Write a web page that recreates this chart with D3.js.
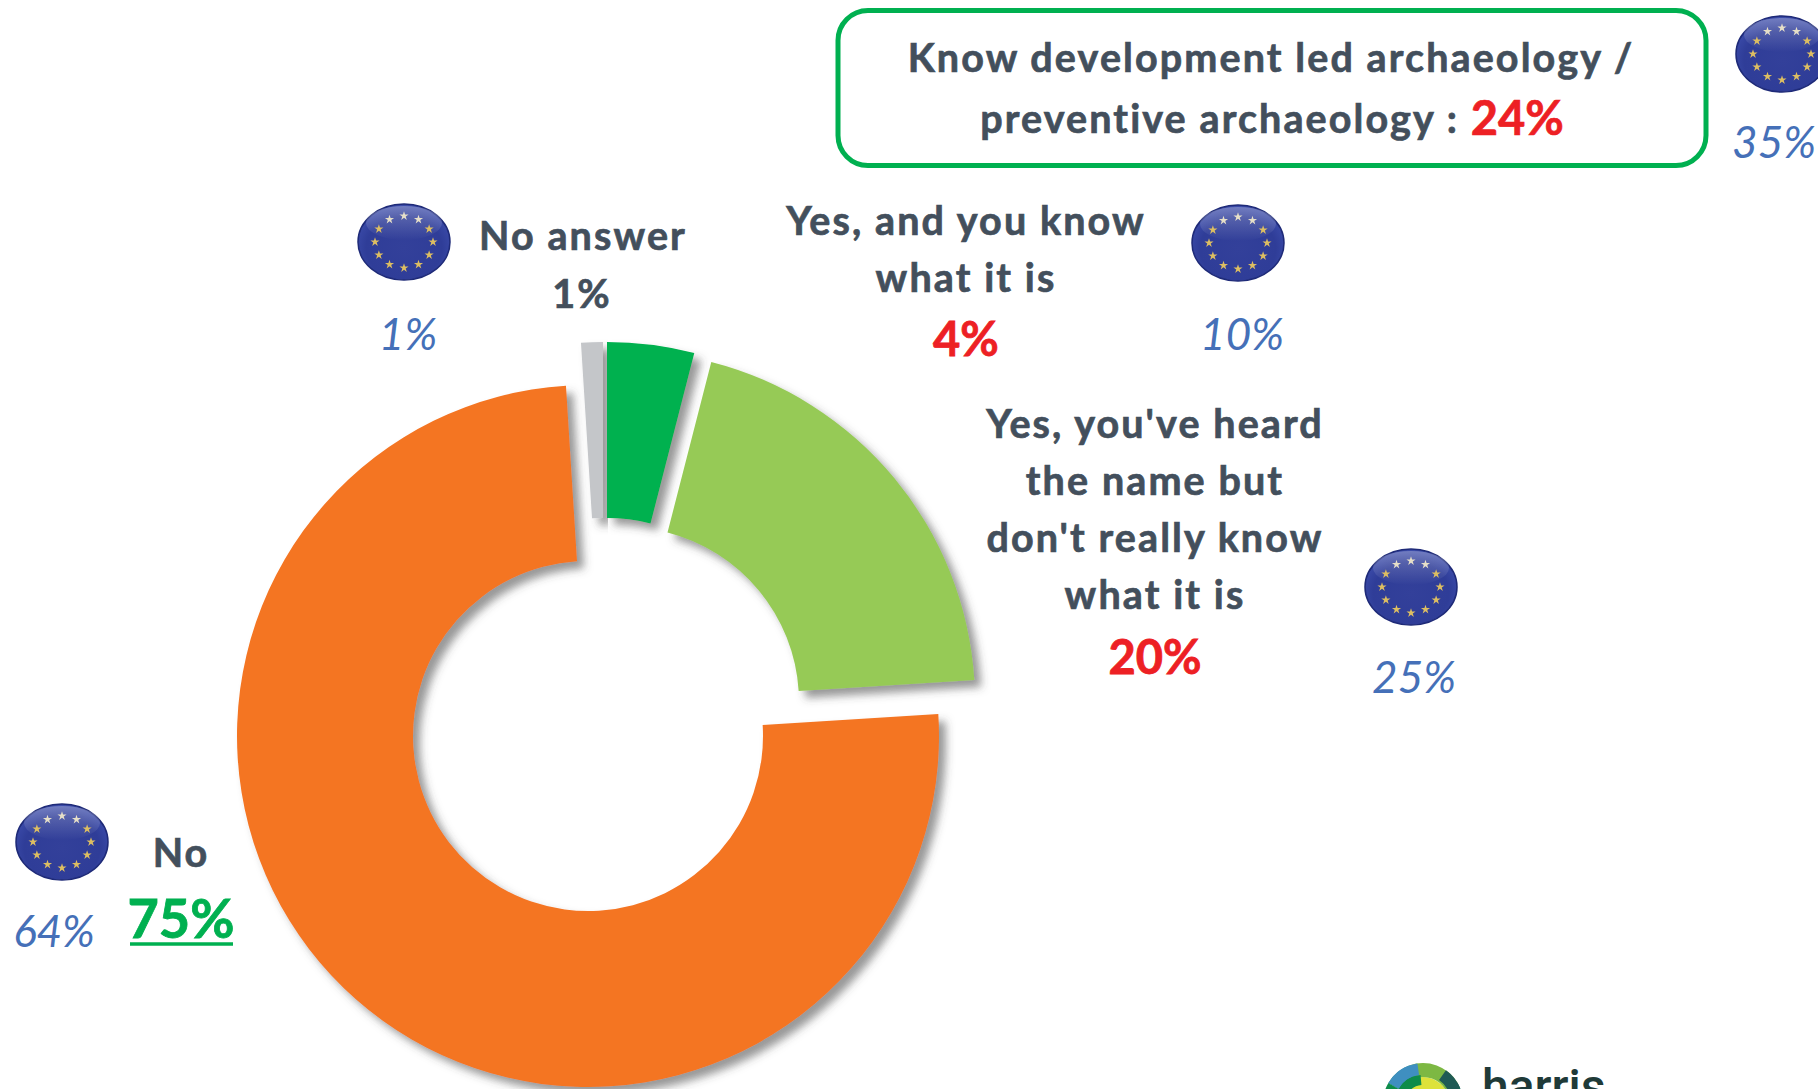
<!DOCTYPE html>
<html><head><meta charset="utf-8">
<script src="https://cdn.jsdelivr.net/npm/d3@7"></script>
<style>html,body{margin:0;padding:0;background:#fff;overflow:hidden}svg{display:block}text{font-family:Lato,Carlito,sans-serif}</style>
</head><body><svg id="c" width="1818" height="1089"></svg>
<script>
// Data
const categories = ["No answer","Yes, and you know what it is","Yes, you've heard the name but don't really know what it is","No"];
const values = [1,4,20,75];
const colors = ["#C4C6C9","#00B14F","#96CA57","#F47523"];
const euValues = ["1%","10%","25%","64%"];
const euTotal = "35%";
const headline = ["Know development led archaeology /","preventive archaeology : "];
const headlineValue = "24%";
const logoLabel = "harris";

// Layout
const W=1818,H=1089;
const svg=d3.select("#c");
const DARK="#434F5C",RED="#ED2024",BLUE="#4570B8",GREEN="#00B050";
const center=[588,736], outerR=351, innerR=175;
const explode=[[15,-43],[19,-43],[36,-34],[0,0]];

const defs=svg.append("defs");
const f=defs.append("filter").attr("id","sh").attr("x","-20%").attr("y","-20%").attr("width","140%").attr("height","140%");
f.append("feDropShadow").attr("dx",7).attr("dy",7).attr("stdDeviation",4).attr("flood-color","#444").attr("flood-opacity",.55);
const g1=defs.append("radialGradient").attr("id","eu").attr("cx","50%").attr("cy","58%").attr("r","55%");
g1.append("stop").attr("offset","0%").attr("stop-color","#33409A");
g1.append("stop").attr("offset","75%").attr("stop-color","#2F3D98");
g1.append("stop").attr("offset","100%").attr("stop-color","#3A4AA8");
const g2=defs.append("linearGradient").attr("id","gl").attr("x1",0).attr("x2",0).attr("y1",0).attr("y2",1);
g2.append("stop").attr("offset","0%").attr("stop-color","#fff").attr("stop-opacity",.28);
g2.append("stop").attr("offset","100%").attr("stop-color","#fff").attr("stop-opacity",0);

// Donut
const pie=d3.pie().sort(null).startAngle(-3.6*Math.PI/180).endAngle((360-3.6)*Math.PI/180).value(d=>d);
const arc=d3.arc().innerRadius(innerR).outerRadius(outerR);
svg.append("g").selectAll("path").data(pie(values)).join("path")
  .attr("transform",(d,i)=>`translate(${center[0]+explode[i][0]},${center[1]+explode[i][1]})`)
  .attr("d",arc).attr("fill",(d,i)=>colors[i]).attr("filter","url(#sh)");

// Text helper
function txt(x,y,s,size,fill,opt={}){
  const t=svg.append("text").attr("x",x).attr("y",y).attr("text-anchor","middle")
    .attr("font-size",size).attr("fill",fill)
    .attr("font-weight",opt.italic?400:700).attr("font-style",opt.italic?"italic":"normal").text(s);
  if(opt.label) t.attr("letter-spacing",2.1).attr("stroke",fill).attr("stroke-width",.7);
  if(opt.num) t.attr("stroke",fill).attr("stroke-width",.8);
  return t;
}
const LS=39.5, L={label:true}, N={num:true};
// Headline box
svg.append("rect").attr("x",838).attr("y",10.5).attr("width",868).attr("height",155).attr("rx",30)
  .attr("fill","#fff").attr("stroke",GREEN).attr("stroke-width",5);
txt(1271,72,headline[0],LS,DARK,L);
const h2=txt(1272,133,"",LS,DARK,L);
h2.append("tspan").text(headline[1]);
h2.append("tspan").attr("fill",RED).attr("stroke",RED).attr("font-size",47).attr("letter-spacing",0).attr("dy",2).text(headlineValue);

// Labels
txt(583,250,"No answer",LS,DARK,L);
txt(582,308,values[0]+"%",LS,DARK,L);
txt(966,235,"Yes, and you know",LS,DARK,L);
txt(966,292,"what it is",LS,DARK,L);
txt(966,356,values[1]+"%",47,RED,N);
["Yes, you've heard","the name but","don't really know","what it is"].forEach((s,i)=>txt(1155,438+i*57,s,LS,DARK,L));
txt(1155,674,values[2]+"%",47,RED,N);
txt(181,867,"No",LS,DARK,L);
txt(181,938,values[3]+"%",54,GREEN,N);
svg.append("line").attr("x1",130).attr("x2",233).attr("y1",944).attr("y2",944).attr("stroke",GREEN).attr("stroke-width",3.5);

// EU
const euPct=[[408,350,euValues[0]],[1242,350,euValues[1]],[1414,693,euValues[2]],[54,947,euValues[3]],[1774,158,euTotal]];
euPct.forEach(d=>txt(d[0],d[1],d[2],44,BLUE,{italic:true}));
const flags=[[404,242],[1238,243],[1411,587],[62,842],[1782,54]];
const star=d3.symbol().type(d3.symbolStar).size(26)();
flags.forEach(([x,y])=>{
  const g=svg.append("g").attr("transform",`translate(${x},${y})`);
  g.append("ellipse").attr("rx",46).attr("ry",38).attr("fill","url(#eu)").attr("stroke","#1E2A78").attr("stroke-width",1.5);
  g.append("ellipse").attr("cy",-19).attr("rx",38).attr("ry",17).attr("fill","url(#gl)");
  d3.range(12).forEach(i=>{
    const a=i*Math.PI/6;
    const sx=Math.sin(a)*29, sy=-Math.cos(a)*26;
    g.append("path").attr("d",star).attr("transform",`translate(${sx},${sy})`)
      .attr("fill",sy<-18?"#E6DFC8":"#DDBE62");
  });
});

// Logo (cropped by the page edge)
const logo=svg.append("g").attr("transform","translate(1423,1103)");
const la=(r0,r1,a0,a1,c)=>logo.append("path").attr("d",d3.arc()({innerRadius:r0,outerRadius:r1,startAngle:a0*Math.PI/180,endAngle:a1*Math.PI/180})).attr("fill",c);
la(0,14,0,360,"#F6F3D0");
la(14,26,0,360,"#DDE23A");
la(26,40,-20,60,"#7DB843");
la(26,40,60,110,"#17705C");
la(28,40,35,68,"#1F5A55");
la(26,40,-60,-20,"#0E8C4A");
la(28,40,-60,-8,"#3F8FC0");
la(18,28,-60,-5,"#0E8C4A");
la(26,40,-110,-60,"#0E8C4A");
svg.append("text").attr("x",1482).attr("y",1103).attr("font-size",48).attr("font-weight",500).attr("fill","#1F3A38").style("font-family","Roboto").text(logoLabel);
</script></body></html>
